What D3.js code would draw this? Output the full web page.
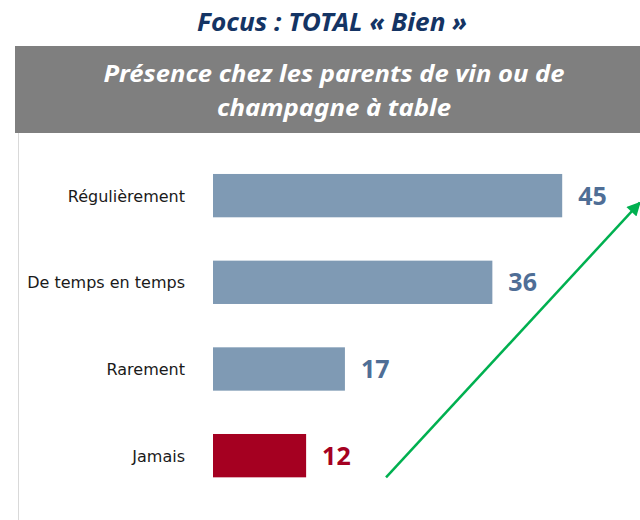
<!DOCTYPE html>
<html>
<head>
<meta charset="utf-8">
<script src="https://cdn.jsdelivr.net/npm/d3@7"></script>
<style>
  body { margin: 0; background: #fff; }
  svg { display: block; }
</style>
</head>
<body>
<div id="chart"></div>
<script>
const categories = ['Régulièrement', 'De temps en temps', 'Rarement', 'Jamais'];
const values = [45, 36, 17, 12];
const highlight = ['Jamais'];
const pageTitle = 'Focus : TOTAL « Bien »';
const bannerLines = ['Présence chez les parents de vin ou de', 'champagne à table'];
// trend arrow, in data units (value, category)
const arrowFrom = [22.3, 'Jamais'];
const arrowTo = [55, 'Régulièrement'];

const width = 640;
const height = 520;

const svg = d3
  .select('#chart')
  .append('svg')
  .attr('width', width)
  .attr('height', height);

const defs = svg.append('defs');
defs
  .append('marker')
  .attr('id', 'arrowhead')
  .attr('viewBox', '0 0 10 10')
  .attr('refX', 9)
  .attr('refY', 5)
  .attr('markerWidth', 6.5)
  .attr('markerHeight', 5.5)
  .attr('markerUnits', 'strokeWidth')
  .attr('orient', 'auto')
  .append('path')
  .attr('d', 'M0,0 L10,5 L0,10 Z')
  .attr('fill', '#00B050');

// page title
svg
  .append('text')
  .attr('x', 332)
  .attr('y', 31)
  .attr('text-anchor', 'middle')
  .attr('textLength', 270)
  .attr('lengthAdjust', 'spacingAndGlyphs')
  .style('font-family', '"Noto Sans", sans-serif')
  .style('font-weight', 700)
  .style('font-style', 'italic')
  .style('font-size', '25px')
  .style('fill', '#143464')
  .text(pageTitle);

// grey banner
svg
  .append('rect')
  .attr('x', 15)
  .attr('y', 46)
  .attr('width', width - 15)
  .attr('height', 87)
  .attr('fill', '#7F7F7F');

const bannerLen = [461, 234];
svg
  .append('g')
  .selectAll('text')
  .data(bannerLines)
  .enter()
  .append('text')
  .attr('x', 334)
  .attr('y', (d, i) => 82 + i * 34)
  .attr('text-anchor', 'middle')
  .attr('textLength', (d, i) => bannerLen[i])
  .attr('lengthAdjust', 'spacingAndGlyphs')
  .style('font-family', '"Noto Sans", sans-serif')
  .style('font-weight', 700)
  .style('font-style', 'italic')
  .style('font-size', '24px')
  .style('fill', '#fff')
  .text((d) => d);

// left frame line
svg
  .append('line')
  .attr('x1', 18.5)
  .attr('x2', 18.5)
  .attr('y1', 133)
  .attr('y2', height)
  .style('stroke', '#D9D9D9')
  .style('stroke-width', 1);

// scales
const x = d3.scaleLinear().domain([0, 50]).range([213, 213 + 388]);
const y = d3
  .scaleBand()
  .domain(categories)
  .range([152.3, 499])
  .paddingInner(0.5)
  .paddingOuter(0.25);

const data = categories.map((c, i) => ({ cat: c, value: values[i] }));
const isHi = (d) => highlight.includes(d.cat);

// bars
svg
  .append('g')
  .selectAll('rect')
  .data(data)
  .enter()
  .append('rect')
  .attr('x', x(0))
  .attr('y', (d) => y(d.cat))
  .attr('width', (d) => x(d.value) - x(0))
  .attr('height', y.bandwidth())
  .attr('fill', (d) => (isHi(d) ? '#A50021' : '#7F9AB4'));

// value labels
svg
  .append('g')
  .selectAll('text')
  .data(data)
  .enter()
  .append('text')
  .attr('x', (d) => x(d.value) + 16)
  .attr('y', (d) => y(d.cat) + y.bandwidth() / 2 + 9)
  .style('font-family', '"Noto Sans", sans-serif')
  .style('font-weight', 700)
  .style('font-size', '25px')
  .style('fill', (d) => (isHi(d) ? '#A50021' : '#4F6E96'))
  .text((d) => d.value);

// category labels
svg
  .append('g')
  .selectAll('text')
  .data(data)
  .enter()
  .append('text')
  .attr('x', x(0) - 28)
  .attr('y', (d) => y(d.cat) + y.bandwidth() / 2 + 6)
  .attr('text-anchor', 'end')
  .style('font-family', '"DejaVu Sans", sans-serif')
  .style('font-size', '16px')
  .style('fill', '#1a1a1a')
  .text((d) => d.cat);

// green trend arrow
svg
  .append('line')
  .attr('x1', x(arrowFrom[0]))
  .attr('y1', y(arrowFrom[1]) + y.bandwidth())
  .attr('x2', x(arrowTo[0]))
  .attr('y2', y(arrowTo[1]) + y.bandwidth() / 2 + 7)
  .style('stroke', '#00B050')
  .style('stroke-width', 2.5)
  .attr('marker-end', 'url(#arrowhead)');
</script>
</body>
</html>
